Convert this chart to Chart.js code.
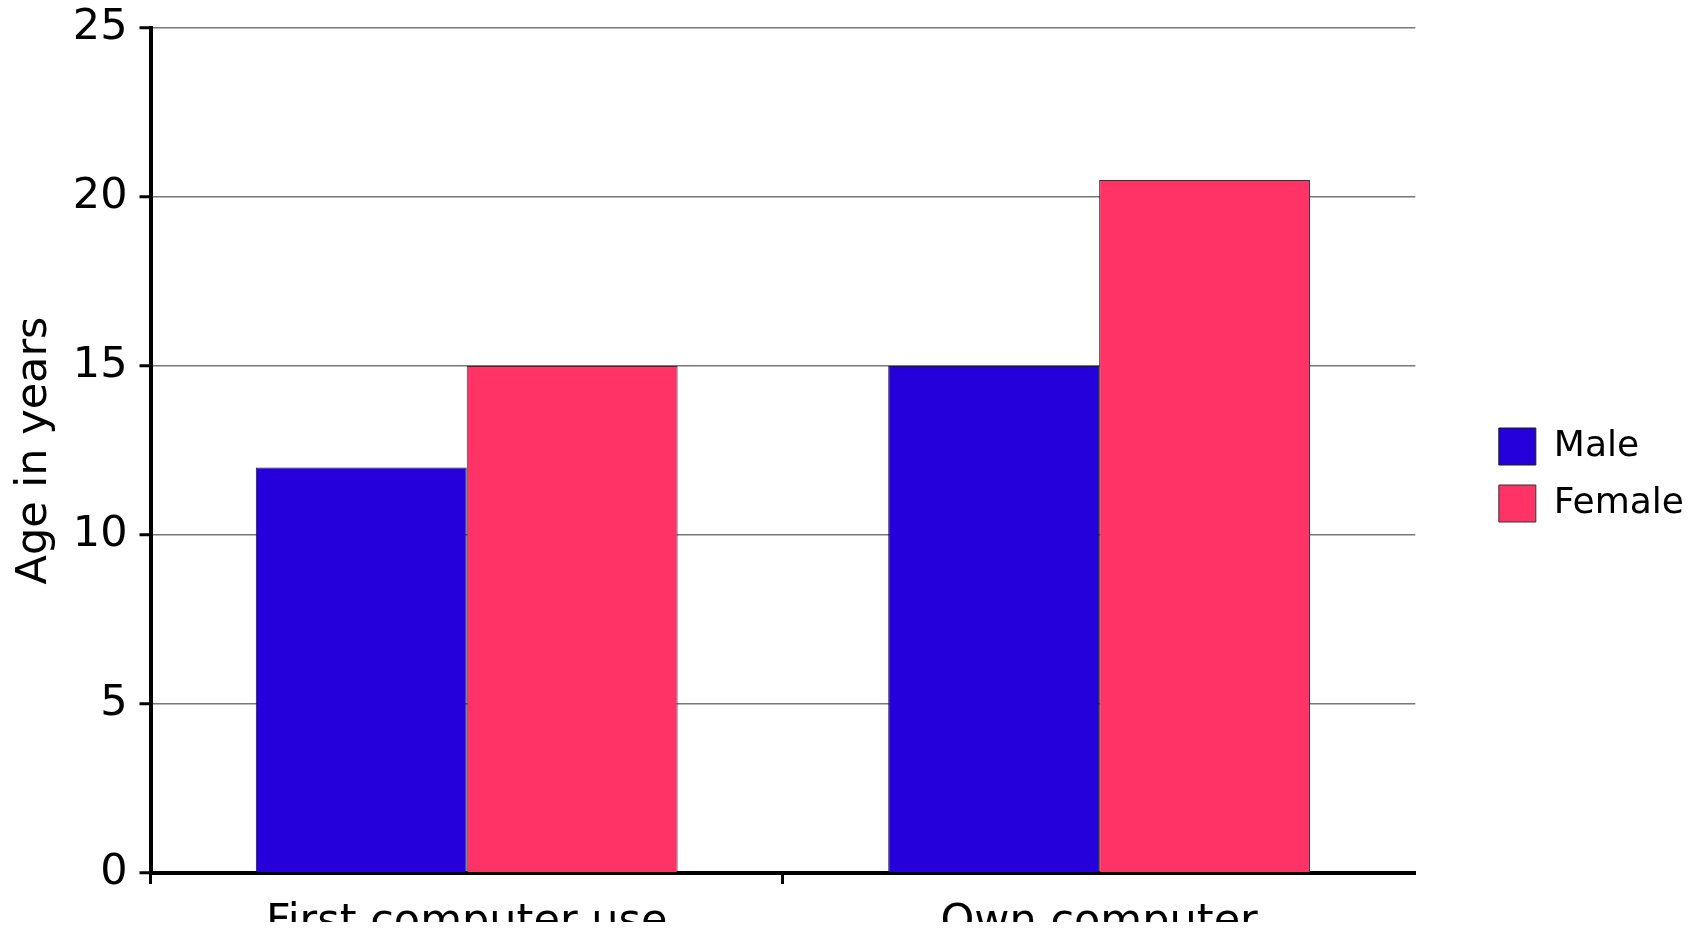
<!DOCTYPE html>
<html>
<head>
<meta charset="utf-8">
<title>Age in years</title>
<script src="https://cdn.jsdelivr.net/npm/chart.js@4"></script>
<style>
    html, body { margin: 0; padding: 0; overflow: hidden; background: #fff; }
    canvas { display: block; }
</style>
</head>
<body>
<canvas id="ageChart" width="1700" height="939"></canvas>
<script>
// Data
const categories = ['First computer use', 'Own computer'];
const maleAges = [12, 15];
const femaleAges = [15, 20.5];
const yTicks = [0, 5, 10, 15, 20, 25];

const ctx = document.querySelector('#ageChart').getContext('2d');

new Chart(ctx, {
    type: 'bar',
    data: {
        labels: categories,
        datasets: [
            {
                label: 'Male',
                data: maleAges,
                backgroundColor: '#2500DB',
                borderColor: '#1a1a1a',
                borderWidth: 1,
                categoryPercentage: 0.667,
                barPercentage: 1.0
            },
            {
                label: 'Female',
                data: femaleAges,
                backgroundColor: '#FF3366',
                borderColor: '#333',
                borderWidth: 1,
                categoryPercentage: 0.667,
                barPercentage: 1.0
            }
        ]
    },
    options: {
        responsive: false,
        devicePixelRatio: 1,
        animation: false,
        layout: {
            padding: { top: 28, left: 5, right: 6, bottom: 17 }
        },
        font: { family: 'DejaVu Sans' },
        scales: {
            x: {
                grid: {
                    offset: true,
                    drawOnChartArea: false,
                    tickLength: 11,
                    tickWidth: 3,
                    tickColor: c => c.index === undefined ? 'rgba(0,0,0,0)' : '#000'
                },
                border: { color: '#000', width: 4 },
                ticks: {
                    color: '#000',
                    padding: 13,
                    font: { family: 'DejaVu Sans', size: 43 }
                },
                afterFit: s => { s.height = 49; }
            },
            y: {
                min: 0,
                max: 25,
                afterBuildTicks: s => { s.ticks = yTicks.map(v => ({ value: v })); },
                grid: {
                    color: '#777',
                    lineWidth: 1.5,
                    tickColor: '#000',
                    tickWidth: 3,
                    tickLength: 11
                },
                border: { color: '#000', width: 4 },
                ticks: {
                    color: '#000',
                    padding: 12,
                    font: { family: 'DejaVu Sans', size: 43 }
                },
                title: {
                    display: true,
                    text: 'Age in years',
                    color: '#000',
                    padding: { top: 4, bottom: 4 },
                    font: { family: 'DejaVu Sans', size: 43 }
                },
                afterFit: s => {
                    s.width = 145.5;
                    s.paddingTop = 20;
                    s.paddingBottom = 20;
                }
            },
            // empty axis that only keeps the gap between plot and legend
            gap: {
                type: 'linear',
                position: 'right',
                grid: { display: false, drawTicks: false },
                border: { display: false },
                ticks: { display: false },
                afterFit: s => { s.width = 63.5; }
            }
        },
        plugins: {
            legend: {
                position: 'right',
                labels: {
                    boxWidth: 37,
                    boxHeight: 37,
                    padding: 20,
                    color: '#000',
                    font: { family: 'DejaVu Sans', size: 36 }
                }
            },
            tooltip: { enabled: false }
        }
    }
});
</script>
</body>
</html>
